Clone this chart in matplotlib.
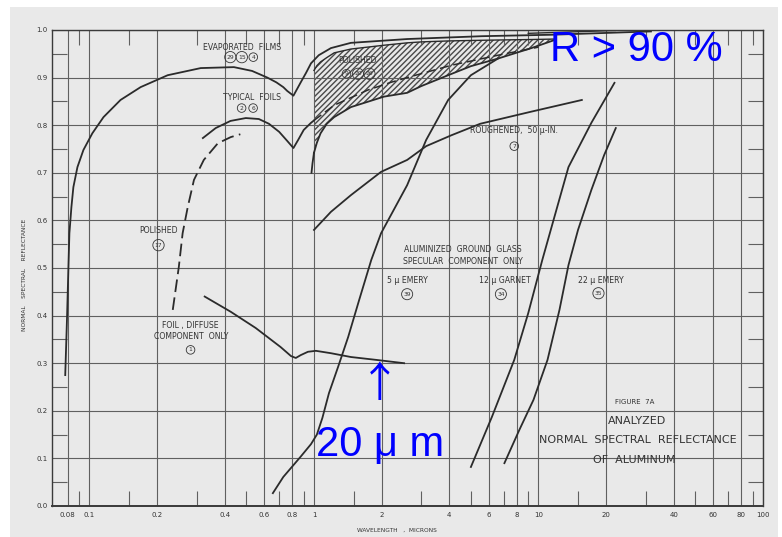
import matplotlib.pyplot as plt
import numpy as np
from matplotlib.patches import Rectangle

# --- data (wavelength in microns, reflectance 0..1) ---
evap_x = [0.078, 0.0795, 0.0806, 0.0814, 0.0831, 0.0848, 0.0884, 0.094, 0.103, 0.1155,
          0.1375, 0.169, 0.223, 0.313, 0.44, 0.53, 0.62, 0.68, 0.73, 0.76, 0.81,
          0.873, 0.922, 0.97, 1.05, 1.19, 1.46, 2.6, 5.6, 11.4, 31.7]
evap_y = [0.275, 0.40, 0.502, 0.573, 0.628, 0.67, 0.712, 0.748, 0.783, 0.817,
          0.853, 0.88, 0.905, 0.92, 0.922, 0.914, 0.90, 0.89, 0.88, 0.872, 0.862,
          0.89, 0.91, 0.93, 0.947, 0.962, 0.973, 0.981, 0.987, 0.99, 0.997]

top_x = [9.0, 14.0, 22.0]
top_y = [0.993, 0.996, 0.999]

foils_x = [0.32, 0.365, 0.425, 0.497, 0.568, 0.63, 0.70, 0.76, 0.81, 0.85, 0.90, 0.97, 1.0]
foils_y = [0.773, 0.794, 0.809, 0.815, 0.813, 0.803, 0.786, 0.767, 0.752, 0.769, 0.79,
           0.805, 0.81]

foils_dash_x = [1.0, 1.23, 1.74, 2.2, 2.6, 4.1, 6.6, 10.0]
foils_dash_y = [0.81, 0.842, 0.874, 0.89, 0.90, 0.926, 0.947, 0.964]

polished_x = [1.0, 1.03, 1.07, 1.14, 1.23, 1.46, 2.05, 2.6, 3.0, 3.96, 5.0, 6.6, 9.3, 11.8]
polished_hi = [0.915, 0.925, 0.933, 0.942, 0.952, 0.96, 0.968, 0.973, 0.975, 0.977,
               0.978, 0.979, 0.980, 0.981]
polished_lo = [0.742, 0.763, 0.783, 0.803, 0.817, 0.838, 0.86, 0.868, 0.882, 0.905,
               0.924, 0.94, 0.962, 0.979]
polished_tail_x = [0.975, 0.985, 1.0]
polished_tail_y = [0.70, 0.72, 0.742]

pol17_x = [0.235, 0.25, 0.26, 0.274, 0.292, 0.323, 0.373, 0.426, 0.47]
pol17_y = [0.412, 0.502, 0.573, 0.628, 0.685, 0.727, 0.762, 0.775, 0.781]

diffuse_x = [0.326, 0.426, 0.55, 0.71, 0.79, 0.83, 0.873, 0.94, 1.02, 1.19, 1.46, 1.89, 2.52]
diffuse_y = [0.44, 0.408, 0.374, 0.334, 0.315, 0.311, 0.317, 0.324, 0.326, 0.321, 0.313,
             0.307, 0.30]

emery5_x = [0.656, 0.73, 0.87, 0.97, 1.03, 1.09, 1.166, 1.28, 1.42, 1.59, 1.8, 1.99, 2.6,
            3.16, 3.96, 5.0, 6.6]
emery5_y = [0.027, 0.061, 0.103, 0.13, 0.15, 0.185, 0.237, 0.292, 0.355, 0.433, 0.517,
            0.573, 0.674, 0.769, 0.853, 0.905, 0.94]

rough_x = [1.0, 1.19, 1.46, 1.99, 2.6, 3.16, 4.1, 5.5, 9.2, 15.6]
rough_y = [0.58, 0.618, 0.653, 0.702, 0.727, 0.756, 0.779, 0.803, 0.828, 0.853]

garnet_x = [5.0, 6.2, 7.8, 9.0, 10.4, 11.9, 13.6, 17.2, 21.8]
garnet_y = [0.082, 0.187, 0.307, 0.405, 0.517, 0.615, 0.712, 0.805, 0.889]

emery22_x = [7.05, 8.22, 9.5, 10.97, 12.4, 13.6, 15.0, 17.2, 19.6, 22.1]
emery22_y = [0.09, 0.16, 0.223, 0.307, 0.412, 0.506, 0.58, 0.664, 0.737, 0.794]

x_major = [0.08, 0.1, 0.2, 0.4, 0.6, 0.8, 1, 2, 4, 6, 8, 10, 20, 40, 60, 80, 100]
x_labels = ['0.08', '0.1', '0.2', '0.4', '0.6', '0.8', '1', '2', '4', '6', '8',
            '10', '20', '40', '60', '80', '100']
x_minor = [0.09, 0.15, 0.3, 0.5, 0.7, 0.9, 1.5, 3, 5, 7, 9, 15, 30, 50, 70, 90]
y_major = [0.0, 0.1, 0.2, 0.3, 0.4, 0.5, 0.6, 0.7, 0.8, 0.9, 1.0]
y_labels = ['0.0', '0.1', '0.2', '0.3', '0.4', '0.5', '0.6', '0.7', '0.8', '0.9', '1.0']
y_minor = [0.05, 0.15, 0.25, 0.35, 0.45, 0.55, 0.65, 0.75, 0.85, 0.95]

paper = '#e9e9e9'
ink = '#2b2b2b'
grid = '#606060'

fig = plt.figure(figsize=(7.82, 5.37), dpi=100)
fig.patch.set_facecolor('white')
fig.patches.append(Rectangle((10 / 782, 0), 768 / 782, 530 / 537, transform=fig.transFigure,
                             facecolor=paper, edgecolor='none', zorder=-10))
ax = fig.add_axes([52 / 782, 31 / 537, 711 / 782, 476 / 537])
ax.patch.set_visible(False)
ax.set_xscale('log')
ax.set_xlim(0.0681, 100)
ax.set_ylim(0, 1)

ax.set_xticks(x_major, x_labels)
ax.set_xticks(x_minor, minor=True)
ax.set_yticks(y_major, y_labels)
ax.set_yticks(y_minor, minor=True)
ax.xaxis.set_minor_formatter(plt.NullFormatter())
ax.grid(which='major', color=grid, lw=0.8)
ax.tick_params(which='major', length=0, labelsize=5, labelcolor='#333333', pad=4)
ax.tick_params(axis='y', which='major', pad=3)
ax.tick_params(which='minor', length=11, width=0.8, color=grid, direction='in',
               top=True, bottom=True, left=True, right=True)
for s in ax.spines.values():
    s.set_color('#3a3a3a')
    s.set_linewidth(1.0)
ax.spines['bottom'].set_linewidth(1.4)

# curves
lw = 1.3
ax.plot(evap_x, evap_y, color=ink, lw=lw)
ax.plot(top_x, top_y, color=ink, lw=1.0)
ax.plot(foils_x, foils_y, color=ink, lw=lw)
ax.plot(foils_dash_x, foils_dash_y, color=ink, lw=1.1, ls=(0, (6, 3)))
ax.fill_between(polished_x, polished_lo, polished_hi, facecolor='none', edgecolor='#4a4a4a',
                hatch='//////', linewidth=0)
ax.plot(polished_x, polished_hi, color=ink, lw=1.0)
ax.plot(polished_x, polished_lo, color=ink, lw=lw)
ax.plot(polished_tail_x, polished_tail_y, color=ink, lw=lw)
ax.plot(pol17_x, pol17_y, color=ink, lw=lw, ls=(0, (7, 3)))
ax.plot(diffuse_x, diffuse_y, color=ink, lw=lw)
ax.plot(emery5_x, emery5_y, color=ink, lw=lw)
ax.plot(rough_x, rough_y, color=ink, lw=lw)
ax.plot(garnet_x, garnet_y, color=ink, lw=lw)
ax.plot(emery22_x, emery22_y, color=ink, lw=lw)

# labels on the chart
lab = dict(fontsize=5.6, color='#333333', ha='center', va='center', family='DejaVu Sans')


def circled(x, y, nums, dx=1.125):
    n = len(nums)
    for i, s in enumerate(nums):
        xi = x * dx ** (i - (n - 1) / 2)
        ax.text(xi, y, s, fontsize=4.3, color='#333333', ha='center', va='center',
                bbox=dict(boxstyle='circle,pad=0.3', fc='none', ec='#333333', lw=0.6))


ax.text(0.477, 0.964, 'EVAPORATED  FILMS', **lab)
circled(0.477, 0.943, ['29', '15', '4'])
ax.text(0.53, 0.859, 'TYPICAL  FOILS', **lab)
circled(0.505, 0.836, ['2', '6'])
ax.text(1.57, 0.935, 'POLISHED', **lab)
circled(1.57, 0.908, ['9', '20', '26'])
ax.text(0.203, 0.578, 'POLISHED', **lab)
circled(0.203, 0.548, ['17'])
ax.text(7.8, 0.788, 'ROUGHENED,  50 \u03bc-IN.', **lab)
circled(7.8, 0.756, ['7'])
ax.text(4.58, 0.538, 'ALUMINIZED  GROUND  GLASS', **lab)
ax.text(4.6, 0.513, 'SPECULAR  COMPONENT  ONLY', **lab)
ax.text(2.6, 0.473, '5 \u03bc EMERY', **lab)
circled(2.6, 0.445, ['39'])
ax.text(7.05, 0.473, '12 \u03bc GARNET', **lab)
circled(6.8, 0.445, ['34'])
ax.text(19.0, 0.473, '22 \u03bc EMERY', **lab)
circled(18.5, 0.447, ['35'])
ax.text(0.282, 0.38, 'FOIL , DIFFUSE', **lab)
ax.text(0.285, 0.357, 'COMPONENT  ONLY', **lab)
circled(0.282, 0.328, ['1'])

ax.text(26.8, 0.218, 'FIGURE  7A', fontsize=5, color='#333333', ha='center', va='center')
ax.text(27.5, 0.178, 'ANALYZED', fontsize=8, color='#333333', ha='center', va='center')
ax.text(27.8, 0.139, 'NORMAL  SPECTRAL  REFLECTANCE', fontsize=8, color='#333333',
        ha='center', va='center')
ax.text(26.8, 0.097, 'OF  ALUMINUM', fontsize=8, color='#333333', ha='center', va='center')

fig.text(25 / 782, 1 - 275 / 537, 'NORMAL    SPECTRAL    REFLECTANCE', rotation=90,
         fontsize=4.2, color='#333333', ha='center', va='center')
fig.text(397 / 782, 1 - 530 / 537, 'WAVELENGTH   ,  MICRONS', fontsize=4.2,
         color='#333333', ha='center', va='center')

# blue overlay notes
blue = '#0000ff'
ax.text(27.4, 0.958, 'R > 90 %', fontsize=30, color=blue, ha='center', va='center',
        family=['Liberation Sans', 'DejaVu Sans'])
ax.text(1.96, 0.254, '\u2191', fontsize=30, color=blue, ha='center', va='center',
        family=['Noto Sans CJK JP', 'DejaVu Sans'])
ax.text(1.97, 0.128, '20 \u03bc m', fontsize=30, color=blue, ha='center', va='center',
        family=['Liberation Sans', 'DejaVu Sans'])

fig.savefig('out.png', dpi=100)
